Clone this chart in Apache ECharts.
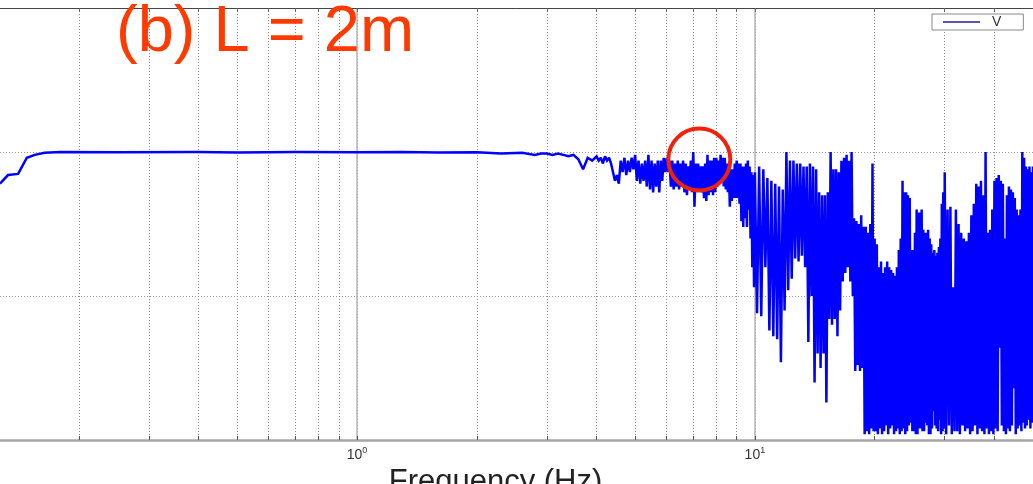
<!DOCTYPE html>
<html><head><meta charset="utf-8">
<script src="https://cdn.jsdelivr.net/npm/echarts@6/dist/echarts.min.js"></script>
<style>html,body{margin:0;padding:0;background:#fff;overflow:hidden}#c{width:1033px;height:484px}</style>
</head><body><div id="c"></div><script>
// ---- data (frequency in Hz, coherence 0..1) ----
const lowFreq = [0.1267, 0.1327, 0.1407, 0.148, 0.155, 0.164, 0.18, 0.25, 0.4, 0.5, 0.7, 1.0, 1.3, 1.6, 2.0, 2.3, 2.6, 2.8, 2.9];
const lowCoh  = [0.89, 0.92, 0.924, 0.98, 0.99, 0.997, 1.0, 0.999, 1.0, 0.998, 1.0, 0.999, 1.0, 0.998, 0.999, 0.995, 0.997, 0.99, 0.995];

// 3.0 .. 3.9 Hz, bins of 0.1 Hz
const segAStartHz = 3.0, segAStepHz = 0.1;
const segACoh = [0.995,0.99,0.995,0.99,0.985,0.99,0.975,0.94,0.98,0.97];

// 4.00 .. 9.95 Hz, bins of 0.05 Hz
const segBStartHz = 4.0, segBStepHz = 0.05;
const segBCoh = [
  0.985,0.97,0.98,0.96,0.985,0.97,0.98,0.96,0.93,0.9,
  0.92,0.89,0.97,0.93,0.98,0.92,0.97,0.93,0.98,0.94,
  0.99,0.9,0.97,0.89,0.96,0.9,0.97,0.88,0.99,0.87,
  0.97,0.86,0.96,0.88,0.97,0.86,0.97,0.9,0.98,0.93,
  0.98,0.93,0.97,0.88,0.97,0.87,0.96,0.88,0.97,0.87,
  0.96,0.88,0.97,0.86,0.96,0.85,0.95,0.87,0.97,0.86,
  1.0,0.81,0.96,0.86,0.96,0.87,0.95,0.86,0.95,0.84,
  0.96,0.83,0.99,0.85,0.97,0.86,0.97,0.85,0.98,0.86,
  0.98,0.88,0.97,0.89,0.99,0.9,0.98,0.88,0.98,0.87,
  0.96,0.86,0.95,0.81,0.94,0.83,0.94,0.84,0.96,0.84,
  0.97,0.84,0.96,0.82,0.96,0.76,0.95,0.74,0.95,0.77,
  0.96,0.74,0.97,0.8,0.95,0.7,0.93,0.6,0.92,0.53
];

// 10.0 .. 19.875 Hz, bins of 0.125 Hz
const segCStartHz = 10.0, segCStepHz = 0.125;
const segCCoh = [
  0.93,0.44,0.95,0.43,  0.94,0.6,0.91,0.38,   0.9,0.36,0.89,0.35,   0.88,0.27,0.87,0.45,
  1.0,0.52,0.97,0.56,   0.97,0.63,0.96,0.62,  0.96,0.64,0.95,0.6,   0.95,0.34,0.96,0.5,
  0.95,0.2,0.94,0.3,    0.86,0.25,0.85,0.3,   0.85,0.13,0.86,0.42,  1.0,0.4,0.94,0.42,
  0.94,0.36,0.93,0.45,  0.97,0.55,0.98,0.58,  0.99,0.6,0.97,0.55,   1.0,0.5,0.77,0.24,
  0.76,0.26,0.75,0.24,  0.78,0.25,0.74,0.02,  0.74,0.03,0.72,0.02,  0.75,0.04,0.96,0.03
];

// 20.0 .. 29.875 Hz, bins of 0.125 Hz
const segDStartHz = 20.0, segDStepHz = 0.125;
const segDCoh = [
  0.7,0.03,0.68,0.02,   0.6,0.04,0.62,0.02,   0.58,0.03,0.6,0.05,   0.62,0.02,0.6,0.04,
  0.59,0.05,0.58,0.02,  0.57,0.03,0.6,0.04,   0.66,0.02,0.7,0.03,   0.9,0.04,0.86,0.02,
  0.86,0.03,0.85,0.05,  0.84,0.06,0.66,0.03,  0.66,0.03,0.72,0.02,  0.8,0.02,0.79,0.04,
  0.79,0.04,0.8,0.03,   0.73,0.03,0.72,0.06,  0.72,0.05,0.73,0.02,  0.7,0.02,0.68,0.04,
  0.65,0.1,0.66,0.05,   0.64,0.04,0.65,0.03,  0.67,0.07,0.7,0.02,   0.82,0.03,0.86,0.04
];

// 30.0 .. 50.0 Hz, bins of 0.25 Hz
const segEStartHz = 30.0, segEStepHz = 0.25;
const segECoh = [
  0.93,0.02,0.8,0.05,   0.81,0.02,0.53,0.03,  0.8,0.03,0.75,0.02,   0.72,0.05,0.7,0.03,
  0.69,0.04,0.72,0.02,  0.78,0.03,0.82,0.05,  0.89,0.02,0.88,0.04,  0.9,0.03,0.85,0.02,
  1.0,0.04,0.72,0.02,   0.73,0.03,0.8,0.02,   0.9,0.04,0.91,0.03,   0.92,0.32,0.9,0.05,
  0.89,0.03,0.7,0.02,   0.85,0.04,0.88,0.03,  0.87,0.05,0.86,0.18,  0.84,0.02,0.8,0.04,
  0.78,0.05,0.8,0.03,   1.0,0.06,0.98,0.04,   0.95,0.05,0.94,0.07,  0.95,0.04,0.93,0.06,
  0.95
];

const xMinHz = 0.1267, xMaxHz = 50;
const gridHz = [0.2,0.3,0.4,0.5,0.6,0.7,0.8,0.9,1,2,3,4,5,6,7,8,9,10,20,30,40];
const majorHz = [1, 10];
const yMin = 0, yMax = 1.5, yStep = 0.5;
const seriesName = 'V';
const annotation = '(b) L = 2m';
const circleAt = [7.25, 0.974];
const xName = 'Frequency (Hz)';

// ---- build ----
const points = [];
lowFreq.forEach((f, i) => points.push([f, lowCoh[i]]));
[[segAStartHz, segAStepHz, segACoh], [segBStartHz, segBStepHz, segBCoh],
 [segCStartHz, segCStepHz, segCCoh], [segDStartHz, segDStepHz, segDCoh],
 [segEStartHz, segEStepHz, segECoh]].forEach(([s, d, arr]) => {
  arr.forEach((v, i) => points.push([+(s + i * d).toFixed(4), v]));
});

const chart = echarts.init(document.getElementById('c'), null, {renderer: 'canvas'});
const font = 'Liberation Sans, Arial, Helvetica, sans-serif';
chart.setOption({
  animation: false,
  backgroundColor: '#ffffff',
  grid: {left: 0, right: 0, top: 8, bottom: 44, containLabel: false, outerBoundsMode: 'none'},
  legend: {
    data: [seriesName], left: 932, top: 14,
    backgroundColor: '#fff', borderColor: '#8a8a8a', borderWidth: 1,
    padding: [1, 22, 1, 11], icon: 'rect', itemWidth: 37, itemHeight: 2,
    itemStyle: {color: '#5a5aa8'},
    textStyle: {fontFamily: font, fontSize: 14, lineHeight: 13, color: '#333', padding: [0, 0, 0, 7]}
  },
  xAxis: [{
    type: 'log', logBase: 10, min: xMinHz, max: xMaxHz, position: 'bottom',
    axisLine: {show: true, lineStyle: {color: '#a6a6a6', width: 2.5}},
    axisTick: {show: true, inside: true, length: 4, customValues: gridHz, lineStyle: {color: '#555', width: 1}},
    splitLine: {show: true, lineStyle: {color: '#8c8c8c', width: 1, type: [1, 2]}},
    axisLabel: {
      show: true, customValues: majorHz, margin: 6, color: '#333',
      formatter: v => '{b|10}{s|' + Math.round(Math.log10(v)) + '}',
      rich: {b: {fontFamily: font, fontSize: 14, color: '#333'},
             s: {fontFamily: font, fontSize: 9, color: '#333', padding: [0, 0, 9, 0]}}
    },
    name: xName, nameLocation: 'middle', nameGap: 17,
    nameTextStyle: {fontFamily: font, fontSize: 31, color: '#222', padding: [0, 42, 0, 0]}
  }, {
    type: 'log', logBase: 10, min: xMinHz, max: xMaxHz, position: 'top',
    axisLine: {show: true, lineStyle: {color: '#444', width: 1}},
    axisTick: {show: true, inside: true, length: 4, customValues: gridHz, lineStyle: {color: '#666'}},
    splitLine: {show: false},
    axisLabel: {show: false}
  }, {
    type: 'log', logBase: 10, min: xMinHz, max: xMaxHz, position: 'bottom', show: true,
    axisLine: {show: false}, axisTick: {show: false, customValues: majorHz},
    axisLabel: {show: false, customValues: majorHz},
    splitLine: {show: true, lineStyle: {color: '#b4b4b4', width: 1.5, type: 'solid'}}
  }],
  yAxis: {
    type: 'value', min: yMin, max: yMax, interval: yStep,
    axisLine: {show: false}, axisTick: {show: false}, axisLabel: {show: false},
    splitLine: {show: true, lineStyle: {color: '#9a9a9a', width: 1, type: [1, 2]}}
  },
  series: [{
    name: seriesName, type: 'line', xAxisIndex: 0, data: points,
    showSymbol: false, symbol: 'none', smooth: false, sampling: null,
    lineStyle: {color: '#0000ff', width: 2.5, join: 'miter', miterLimit: 2},
    itemStyle: {color: '#0000ff'},
    markPoint: {
      silent: true, symbol: 'circle', symbolSize: 62,
      data: [{coord: circleAt}],
      itemStyle: {color: 'rgba(0,0,0,0)', borderColor: '#f0220c', borderWidth: 4},
      label: {show: false}
    }
  }],
  graphic: [{
    type: 'text', left: 116, top: 1, z: 100,
    style: {text: annotation, fontFamily: font, fontSize: 65, fill: '#ff3a00'}
  }]
});
</script></body></html>
